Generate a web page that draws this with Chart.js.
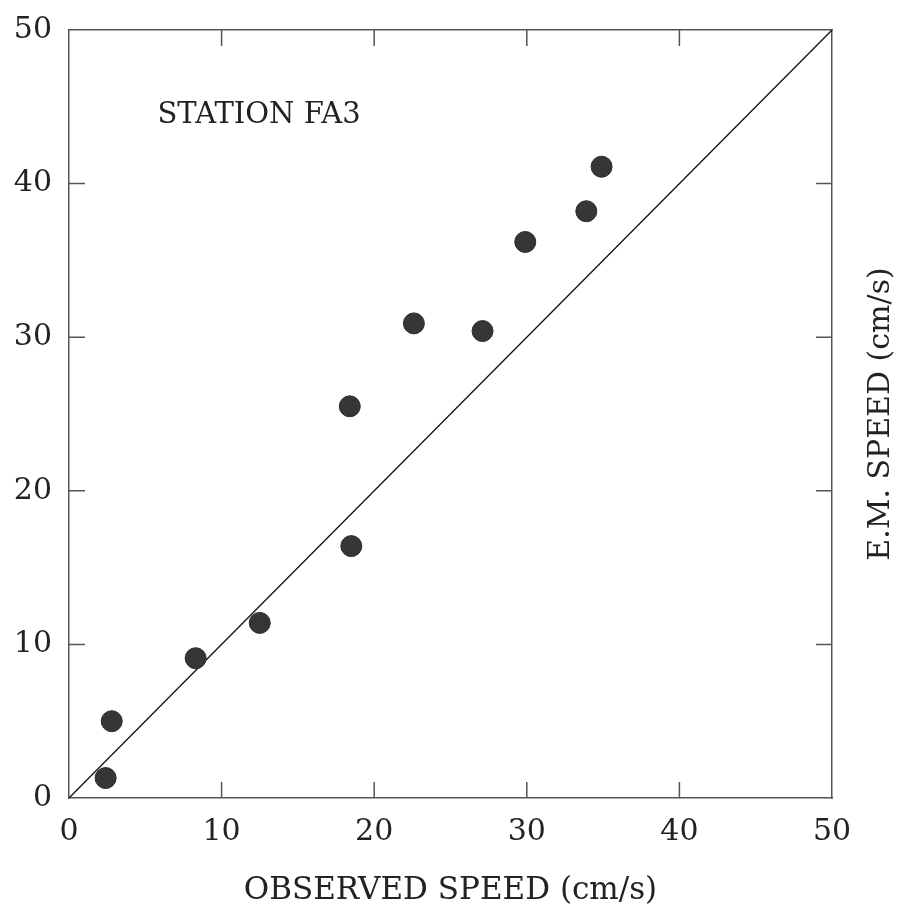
<!DOCTYPE html>
<html>
<head>
<meta charset="utf-8">
<title>Station FA3</title>
<script src="https://cdn.jsdelivr.net/npm/chart.js@4/dist/chart.umd.min.js"></script>
<style>
  html, body { margin: 0; padding: 0; background: #fff; }
  canvas { display: block; }
</style>
</head>
<body>
<canvas id="speedChart" width="899" height="914"></canvas>
<script>
// observed vs E.M. speed at station FA3
const obsSpeed = [2.4, 2.8, 8.3, 12.5, 18.5, 18.4, 22.6, 27.1, 29.9, 33.9, 34.9];
const emSpeed  = [1.3, 5.0, 9.1, 11.4, 16.4, 25.5, 30.9, 30.4, 36.2, 38.2, 41.1];
// 1:1 reference line
const lineX = [0, 50];
const lineY = [0, 50];
const tickValues = [0, 10, 20, 30, 40, 50];

const FONT = 'DejaVu Serif';
const inkCol = '#222';
const axisCol = '#555';

// inward tick marks on all four sides + station label + right-hand title
const decorPlugin = {
  id: 'decor',
  afterDraw(chart) {
    const c = chart.ctx, x = chart.scales.x, y = chart.scales.y;
    const a = chart.chartArea, len = 16;
    c.save();
    c.strokeStyle = axisCol;
    c.lineWidth = 1.5;
    c.beginPath();
    tickValues.slice(1, -1).forEach(v => {
      const px = x.getPixelForValue(v), py = y.getPixelForValue(v);
      c.moveTo(px, a.bottom); c.lineTo(px, a.bottom - len);
      c.moveTo(px, a.top);    c.lineTo(px, a.top + len);
      c.moveTo(a.left, py);   c.lineTo(a.left + len, py);
      c.moveTo(a.right, py);  c.lineTo(a.right - len, py);
    });
    c.stroke();

    c.fillStyle = inkCol;
    c.font = `29px "${FONT}"`;
    c.textBaseline = 'middle';
    c.textAlign = 'left';
    c.fillText('STATION FA3', x.getPixelForValue(5.8), y.getPixelForValue(44.45));

    // right axis title reads bottom-to-top
    c.font = `30px "${FONT}"`;
    c.translate(a.right + 49, (a.top + a.bottom) / 2);
    c.rotate(-Math.PI / 2);
    c.textAlign = 'center';
    c.fillText('E.M. SPEED (cm/s)', 0, 0);
    c.restore();
  }
};

const tickFont = { family: FONT, size: 30 };
const titleFont = { family: FONT, size: 31 };

new Chart(document.getElementById('speedChart'), {
  type: 'scatter',
  data: {
    datasets: [
      {
        data: obsSpeed.map((v, i) => ({ x: v, y: emSpeed[i] })),
        backgroundColor: '#363636',
        borderColor: '#2a2a2a',
        borderWidth: 1,
        pointRadius: 10.5,
      },
      {
        data: lineX.map((v, i) => ({ x: v, y: lineY[i] })),
        showLine: true,
        borderColor: '#111',
        borderWidth: 1.3,
        pointRadius: 0,
        fill: false,
      }
    ]
  },
  options: {
    responsive: false,
    animation: false,
    events: [],
    layout: { padding: 0 },
    plugins: { legend: { display: false }, tooltip: { enabled: false } },
    scales: {
      x: {
        type: 'linear', position: 'bottom', min: 0, max: 50,
        grid: { display: false, drawTicks: false },
        border: { color: axisCol, width: 1.5 },
        ticks: { stepSize: 10, font: tickFont, color: inkCol, padding: 16, maxRotation: 0 },
        title: { display: true, text: 'OBSERVED SPEED (cm/s)', font: titleFont, color: inkCol, padding: { bottom: 4 } },
        afterFit: s => { s.height = 116; }
      },
      x2: {
        type: 'linear', position: 'top', min: 0, max: 50,
        grid: { display: false, drawTicks: false },
        border: { color: axisCol, width: 1.5 },
        ticks: { display: false },
        afterFit: s => { s.height = 30; }
      },
      y: {
        type: 'linear', position: 'left', min: 0, max: 50,
        grid: { display: false, drawTicks: false },
        border: { color: axisCol, width: 1.5 },
        ticks: { stepSize: 10, font: tickFont, color: inkCol, padding: 17 },
        afterFit: s => { s.width = 69; s.paddingTop = 0; s.paddingBottom = 0; }
      },
      y2: {
        type: 'linear', position: 'right', min: 0, max: 50,
        grid: { display: false, drawTicks: false },
        border: { color: axisCol, width: 1.5 },
        ticks: { display: false },
        afterFit: s => { s.width = 67; }
      }
    }
  },
  plugins: [decorPlugin]
});
</script>
</body>
</html>
